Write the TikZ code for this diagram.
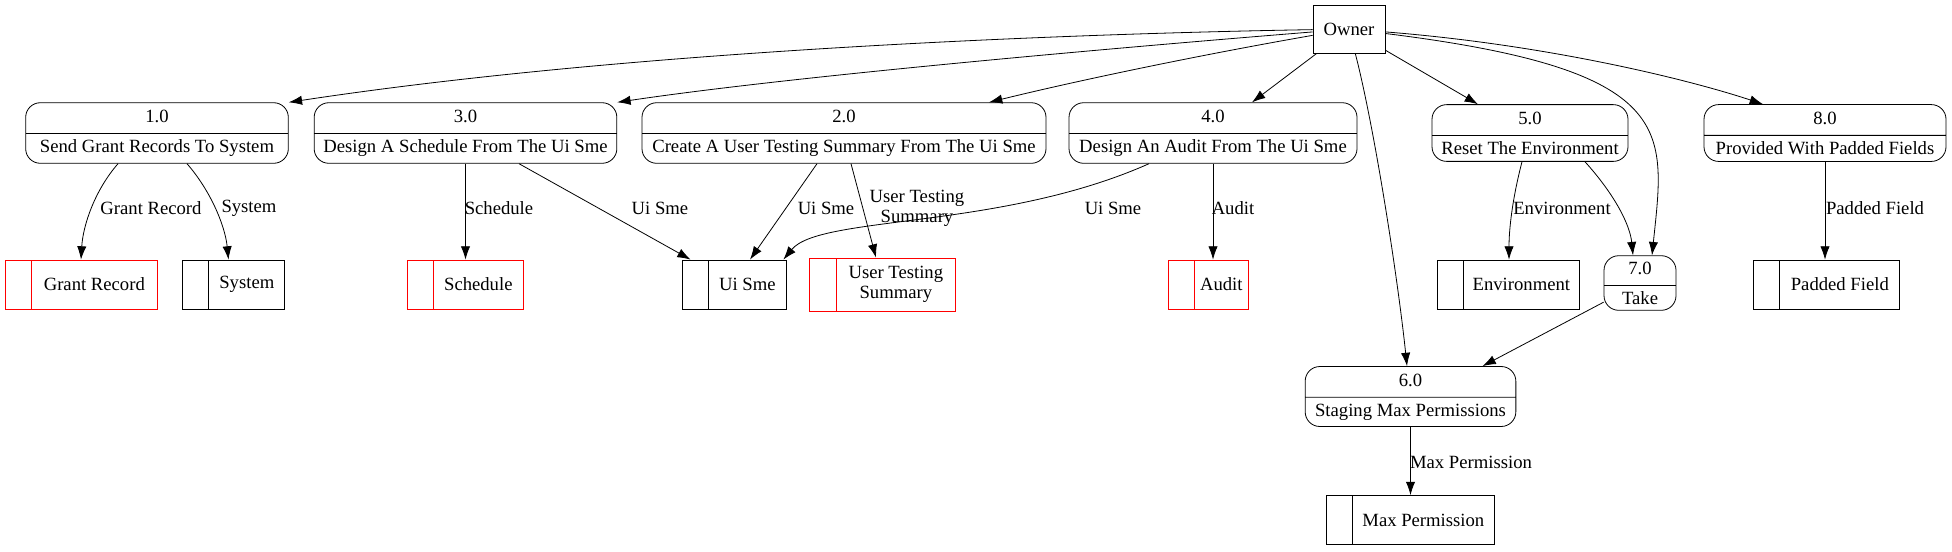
\documentclass[tikz,border=0pt]{standalone}
\usepackage{fontspec}
\setmainfont{Liberation Serif}
\usetikzlibrary{arrows.meta,calc,shapes.multipart}
\tikzstyle{entity}=[draw,line width=0.6pt,minimum width=54pt,minimum height=36pt]
\tikzstyle{process}=[rectangle split,rectangle split parts=2,draw,rounded corners=11pt,line width=0.6pt,inner xsep=6pt,inner ysep=4.5pt,text height=10pt,text depth=3.5pt]
\tikzstyle{edge}=[->,>={Latex[length=10pt,width=7pt]},draw,line width=0.6pt]
\tikzstyle{flow}=[inner sep=0pt,align=center]
\tikzset{store/.style={draw=#1,line width=0.6pt,minimum height=36.75pt,inner sep=3pt,align=center,
    path picture={\draw[#1,line width=0.6pt] ([xshift=20pt]path picture bounding box.north west) -- ([xshift=20pt]path picture bounding box.south west);}},
  store/.default=black}

\begin{document}
\begin{tikzpicture}[x=0.75pt,y=-0.75pt,font=\fontsize{14pt}{15pt}\selectfont]
        \useasboundingbox (0,0) rectangle (1952,551);
        \node [entity] (owner) at (1349,29) {Owner};

        \node [process,minimum width=197pt] (p1) at (157,133) {1.0\nodepart{two}Send Grant Records To System};
        \node [process,minimum width=227pt] (p3) at (465.5,133) {3.0\nodepart{two}Design A Schedule From The Ui Sme};
        \node [process,minimum width=303pt] (p2) at (844,133) {2.0\nodepart{two}Create A User Testing Summary From The Ui Sme};
        \node [process,minimum width=216pt] (p4) at (1213,133) {4.0\nodepart{two}Design An Audit From The Ui Sme};
        \node [process,minimum width=147pt] (p5) at (1530,133) {5.0\nodepart{two}Reset The Environment};
        \node [process,minimum width=181.5pt] (p8) at (1825,133) {8.0\nodepart{two}Provided With Padded Fields};
        \node [process,minimum width=54pt,inner ysep=4.1pt] (p7) at (1640,283) {7.0\nodepart{two}Take};
        \node [process,minimum width=158pt] (p6) at (1410.5,396.5) {6.0\nodepart{two}Staging Max Permissions};

        \node [store=red,minimum width=114pt] (sgrant) at (81,284.5) {\hspace*{20pt}Grant Record};
        \node [store,minimum width=77pt] (ssystem) at (233.5,284.5) {\hspace*{20pt}System};
        \node [store=red,minimum width=87pt] (ssched) at (465,284.5) {\hspace*{20pt}Schedule};
        \node [store,minimum width=78pt] (suisme) at (734,284.5) {\hspace*{20pt}Ui Sme};
        \node [store=red,minimum width=109pt,minimum height=39.75pt] (suts) at (882.5,284.5) {\hspace*{20pt}User Testing\\\hspace*{20pt}Summary};
        \node [store=red,minimum width=60pt] (saudit) at (1208,284.5) {\hspace*{20pt}Audit};
        \node [store,minimum width=106.5pt] (senv) at (1508,284.5) {\hspace*{20pt}Environment};
        \node [store,minimum width=110pt] (spad) at (1826.5,284.5) {\hspace*{20pt}Padded Field};
        \node [store,minimum width=126pt] (smax) at (1410,520) {\hspace*{20pt}Max Permission};

        \path [edge] (owner) .. controls (1000,35) and (600,55) .. (p1.north east);
        \path [edge] (owner) .. controls (1150,45) and (800,75) .. (p3.north east);
        \path [edge] (owner) .. controls (1200,55) and (1080,80) .. ($(p2.north)+(145,0)$);
        \path [edge] (owner) -- ($(p4.north)+(39,0)$);
        \path [edge] (owner) -- ($(p5.north)+(-52,0)$);
        \path [edge] (owner) .. controls (1550,45) and (1690,80) .. ($(p8.north)+(-62,0)$);
        \path [edge] (owner) .. controls (1680,70) and (1665,130) .. ($(p7.north)+(12,0)$);
        \path [edge] (owner) .. controls (1375,130) and (1398,280) .. ($(p6.north)+(-3.5,0)$);

        \path [edge] ($(p1.south)+(-39,0)$) .. controls (95,190) and (83,225) .. (sgrant.north);
        \path [edge] ($(p1.south)+(30,0)$) .. controls (210,190) and (225,225) .. ($(ssystem.north)+(-5,0)$);
        \path [edge] (p3.south) -- (p3.south |- ssched.north);
        \path [edge] ($(p3.south)+(53.5,0)$) -- ($(suisme.north west)+(9,0)$);
        \path [edge] ($(p2.south)+(-27,0)$) -- ($(suisme.north)+(16,0)$);
        \path [edge] ($(p2.south)+(7,0)$) -- ($(suts.north)+(-6.5,0)$);
        \path [edge] ($(p4.south)+(-64,0)$) .. controls (1000,230) and (820,215) .. ($(suisme.north east)+(-3,0)$);
        \path [edge] (p4.south) -- (p4.south |- saudit.north);
        \path [edge] ($(p5.south)+(-8,0)$) .. controls (1512,200) and (1509,230) .. ($(senv.north)+(1,0)$);
        \path [edge] ($(p5.south)+(55,0)$) .. controls (1615,195) and (1630,225) .. ($(p7.north)+(-7,0)$);
        \path [edge] (p7) -- ($(p6.north)+(72,0)$);
        \path [edge] (p8.south) -- (p8.south |- spad.north);
        \path [edge] (p6.south) -- (p6.south |- smax.north);

        \node [flow] (lgrant) at (151,208) {Grant Record};
        \node [flow] (lsystem) at (249,208) {System};
        \node [flow] (lsched) at (499,208) {Schedule};
        \node [flow] (luisme1) at (660,208) {Ui Sme};
        \node [flow] (luisme2) at (826,208) {Ui Sme};
        \node [flow] (luts) at (917,208) {User Testing\\Summary};
        \node [flow] (luisme3) at (1113,208) {Ui Sme};
        \node [flow] (laudit) at (1233,208) {Audit};
        \node [flow] (lenv) at (1562,208) {Environment};
        \node [flow] (lpad) at (1875,208) {Padded Field};
        \node [flow] (lmax) at (1471,462) {Max Permission};
      \end{tikzpicture}
\end{document}
